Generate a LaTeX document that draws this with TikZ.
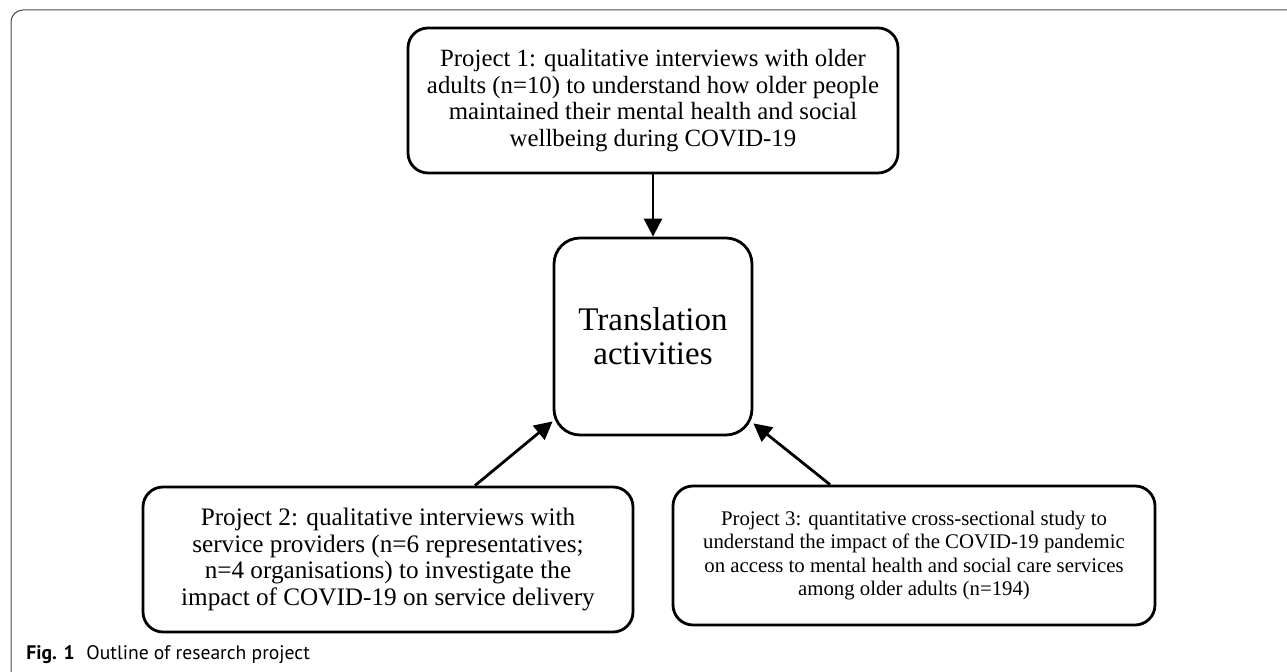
\documentclass[tikz,border=0pt]{standalone}
\usepackage{fontspec}
\setmainfont{Liberation Serif}
\newfontfamily\capfont{PT Sans}
\usetikzlibrary{arrows.meta}

\begin{document}
\begin{tikzpicture}[x=0.5pt,y=-0.5pt,
  box/.style={draw,line width=1.4pt,rounded corners=10pt,align=center,inner sep=0pt},
  arr/.style={line width=1.4pt,-{Triangle[length=9pt,width=9pt]}}]

\useasboundingbox (0,0) rectangle (1287,672);
\draw[gray!60!black,line width=0.5pt,rounded corners=6pt] (11,672) -- (11,10) -- (1287,10);

\node[box,minimum width=245pt,minimum height=72.5pt,font=\fontsize{12.4}{13.2}\selectfont] (p1) at (653,100.5)
  {Project 1: qualitative interviews with older\\adults (n=10) to understand how older people\\maintained their mental health and social\\wellbeing during COVID-19};
\node[box,rounded corners=13pt,minimum width=99pt,minimum height=98.5pt,font=\fontsize{16.5}{17}\selectfont] (tr) at (653,336.5)
  {Translation\\activities};
\node[box,minimum width=245pt,minimum height=72.5pt,font=\fontsize{12.6}{13.4}\selectfont] (p2) at (388,559.5)
  {Project 2: qualitative interviews with\\service providers (n=6 representatives;\\n=4 organisations) to investigate the\\impact of COVID-19 on service delivery};
\node[box,minimum width=241pt,minimum height=69.5pt,font=\fontsize{10.4}{11.6}\selectfont] (p3) at (914,555.5)
  {Project 3: quantitative cross-sectional study to\\understand the impact of the COVID-19 pandemic\\on access to mental health and social care services\\among older adults (n=194)};

\draw[arr] (p1.south) -- (tr.north);
\draw[arr] ([xshift=43.5pt]p2.north) -- ([yshift=7.5pt]tr.south west);
\draw[arr] ([xshift=-42pt]p3.north) -- ([yshift=6.5pt]tr.south east);

\node[anchor=west,inner sep=0pt,font=\capfont\fontsize{9.8}{11}\selectfont] (cap) at (26,655)
  {\textbf{Fig. 1}\hspace{0.6em}Outline of research project};
\end{tikzpicture}
\end{document}
